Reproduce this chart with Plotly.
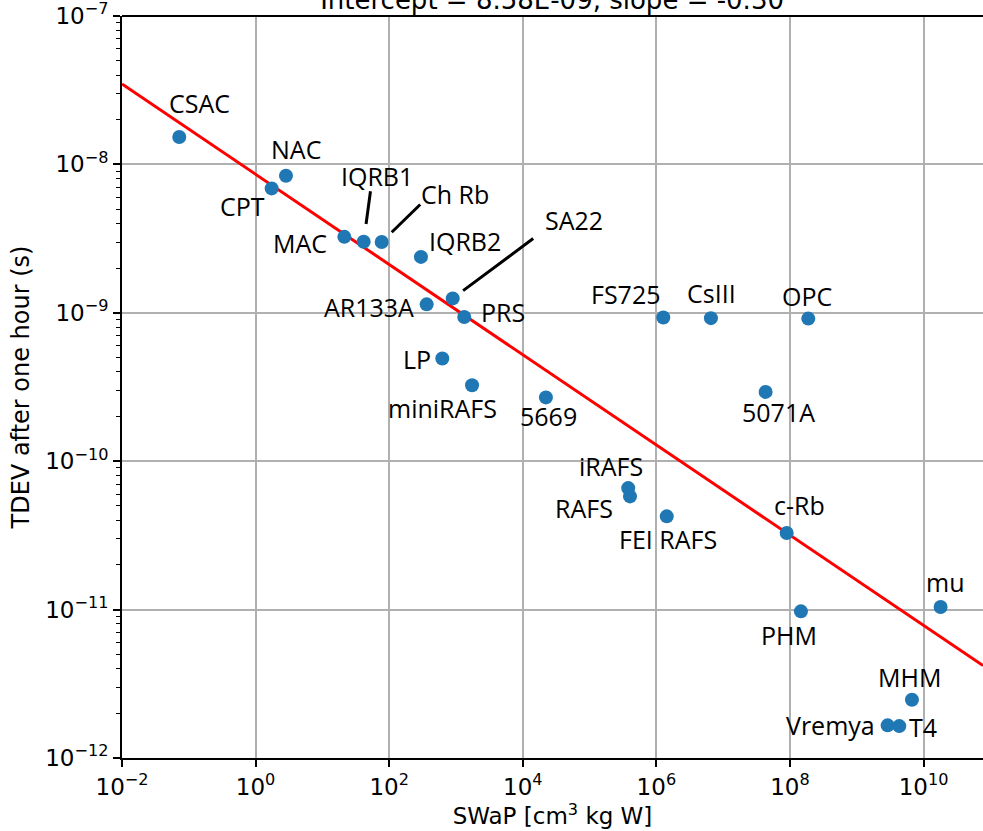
import numpy as np
import plotly.graph_objects as go

# ---------------- data ----------------
NAMES = ["CSAC", "NAC", "CPT", "MAC", "IQRB1", "Ch Rb", "IQRB2", "AR133A", "SA22", "PRS",
         "LP", "miniRAFS", "5669", "FS725", "CsIII", "OPC", "5071A",
         "iRAFS", "RAFS", "FEI RAFS", "c-Rb", "PHM", "mu", "MHM", "Vremya", "T4"]
SWAP = [0.072, 2.85, 1.74, 21.3, 41.5, 77.3, 299, 364, 893, 1330,
        624, 1740, 22200, 1.27e6, 6.56e6, 1.88e8, 4.32e7,
        3.79e5, 4.03e5, 1.43e6, 8.93e7, 1.46e8, 1.80e10, 6.70e9, 2.90e9, 4.33e9]
TDEV = [1.53e-8, 8.38e-9, 6.89e-9, 3.25e-9, 3.01e-9, 3.00e-9, 2.38e-9, 1.14e-9, 1.25e-9, 9.37e-10,
        4.92e-10, 3.25e-10, 2.69e-10, 9.29e-10, 9.20e-10, 9.14e-10, 2.93e-10,
        6.59e-11, 5.79e-11, 4.25e-11, 3.28e-11, 9.73e-12, 1.04e-11, 2.47e-12, 1.66e-12, 1.64e-12]

INTERCEPT = 8.58e-9      # fit value at SWaP = 1
SLOPE = -0.304           # log-log slope
X_EXP_RANGE = [-2, 10.89]
Y_EXP_RANGE = [-12, -7]
X_TICK_EXPS = [-2, 0, 2, 4, 6, 8, 10]
Y_TICK_EXPS = [-12, -11, -10, -9, -8, -7]

# ---------------- label placement (pixels: dx right, dy down) ----------------
LABEL_OFFSETS = {
    "CSAC": (20, -34), "NAC": (10, -27), "CPT": (-29, 18), "MAC": (-44, 6),
    "IQRB1": (13, -66), "Ch Rb": (73, -48), "IQRB2": (44, -16), "AR133A": (-58, 3),
    "SA22": (121, -78), "PRS": (39, -5), "LP": (-25, 0), "miniRAFS": (-30, 23),
    "5669": (3, 19), "FS725": (-37, -24), "CsIII": (1, -25), "OPC": (-1, -23),
    "5071A": (13, 20), "iRAFS": (-17, -22), "RAFS": (-46, 12), "FEI RAFS": (1, 23),
    "c-Rb": (13, -28), "PHM": (-12, 24), "mu": (4, -25), "MHM": (-2, -23),
    "Vremya": (-57, 0), "T4": (24, 1),
}
# leader lines: (tail dx, tail dy, standoff)
LEADERS = {"IQRB1": (7, -52, 18), "Ch Rb": (40, -39, 14), "SA22": (82, -61, 13)}


def pow_label(e):
    return "10<sup>%s</sup>" % (("\u2212%d" % -e) if e < 0 else str(e))


fig = go.Figure()

# fit line
xl = np.array([10 ** X_EXP_RANGE[0], 10 ** X_EXP_RANGE[1]])
yl = INTERCEPT * xl ** SLOPE
fig.add_trace(go.Scatter(x=xl, y=yl, mode="lines", line=dict(color="red", width=3),
                         hoverinfo="skip", showlegend=False))

fig.add_trace(go.Scatter(x=SWAP, y=TDEV, mode="markers",
                         marker=dict(size=14, color="#1f77b4"),
                         text=NAMES, showlegend=False))

label_font = dict(family="Open Sans", size=25, color="black")
for name, xv, yv in zip(NAMES, SWAP, TDEV):
    dx, dy = LABEL_OFFSETS[name]
    fig.add_annotation(x=np.log10(xv), y=np.log10(yv), xref="x", yref="y", text=name,
                       showarrow=False, xshift=dx, yshift=-dy, font=label_font)
    if name in LEADERS:
        tx, ty, so = LEADERS[name]
        fig.add_annotation(x=np.log10(xv), y=np.log10(yv), xref="x", yref="y", text="",
                           showarrow=True, ax=tx, ay=ty, axref="pixel", ayref="pixel",
                           arrowhead=0, arrowwidth=3, arrowcolor="black", standoff=so)

tick_font = dict(family="DejaVu Sans", size=23, color="black")
common = dict(type="log", showgrid=True, gridcolor="#b0b0b0", gridwidth=1.5,
              showline=True, linecolor="black", linewidth=2,
              ticks="outside", ticklen=7, tickwidth=1.6, tickcolor="black",
              tickfont=tick_font, zeroline=False, ticklabeloverflow="allow")
fig.update_xaxes(range=X_EXP_RANGE,
                 tickvals=[10.0 ** e for e in X_TICK_EXPS],
                 ticktext=[pow_label(e) for e in X_TICK_EXPS],
                 title=dict(text="SWaP [cm<sup>3</sup> kg W]",
                            font=dict(family="DejaVu Sans", size=23, color="black"), standoff=8),
                 **common)
fig.update_yaxes(range=Y_EXP_RANGE,
                 tickvals=[10.0 ** e for e in Y_TICK_EXPS],
                 ticktext=[pow_label(e) for e in Y_TICK_EXPS],
                 minor=dict(ticks="outside", ticklen=4, tickwidth=1.2, tickcolor="black",
                            dtick="D1", showgrid=False),
                 title=dict(text="TDEV after one hour (s)",
                            font=dict(family="DejaVu Sans", size=24, color="black"), standoff=9),
                 **common)

fig.add_shape(type="line", xref="paper", yref="paper", x0=0, x1=1, y0=1, y1=1,
              line=dict(color="black", width=2))

fig.update_layout(
    width=983, height=831,
    margin=dict(l=122, r=0, t=16, b=73),
    plot_bgcolor="white", paper_bgcolor="white",
    title=dict(text="Intercept = %.2E, slope = %.2f" % (INTERCEPT, SLOPE),
               x=0.5616, xanchor="center", y=1.0, yref="container", yanchor="middle",
               font=dict(family="DejaVu Sans", size=26, color="black")),
)

fig.write_html("out.html")
